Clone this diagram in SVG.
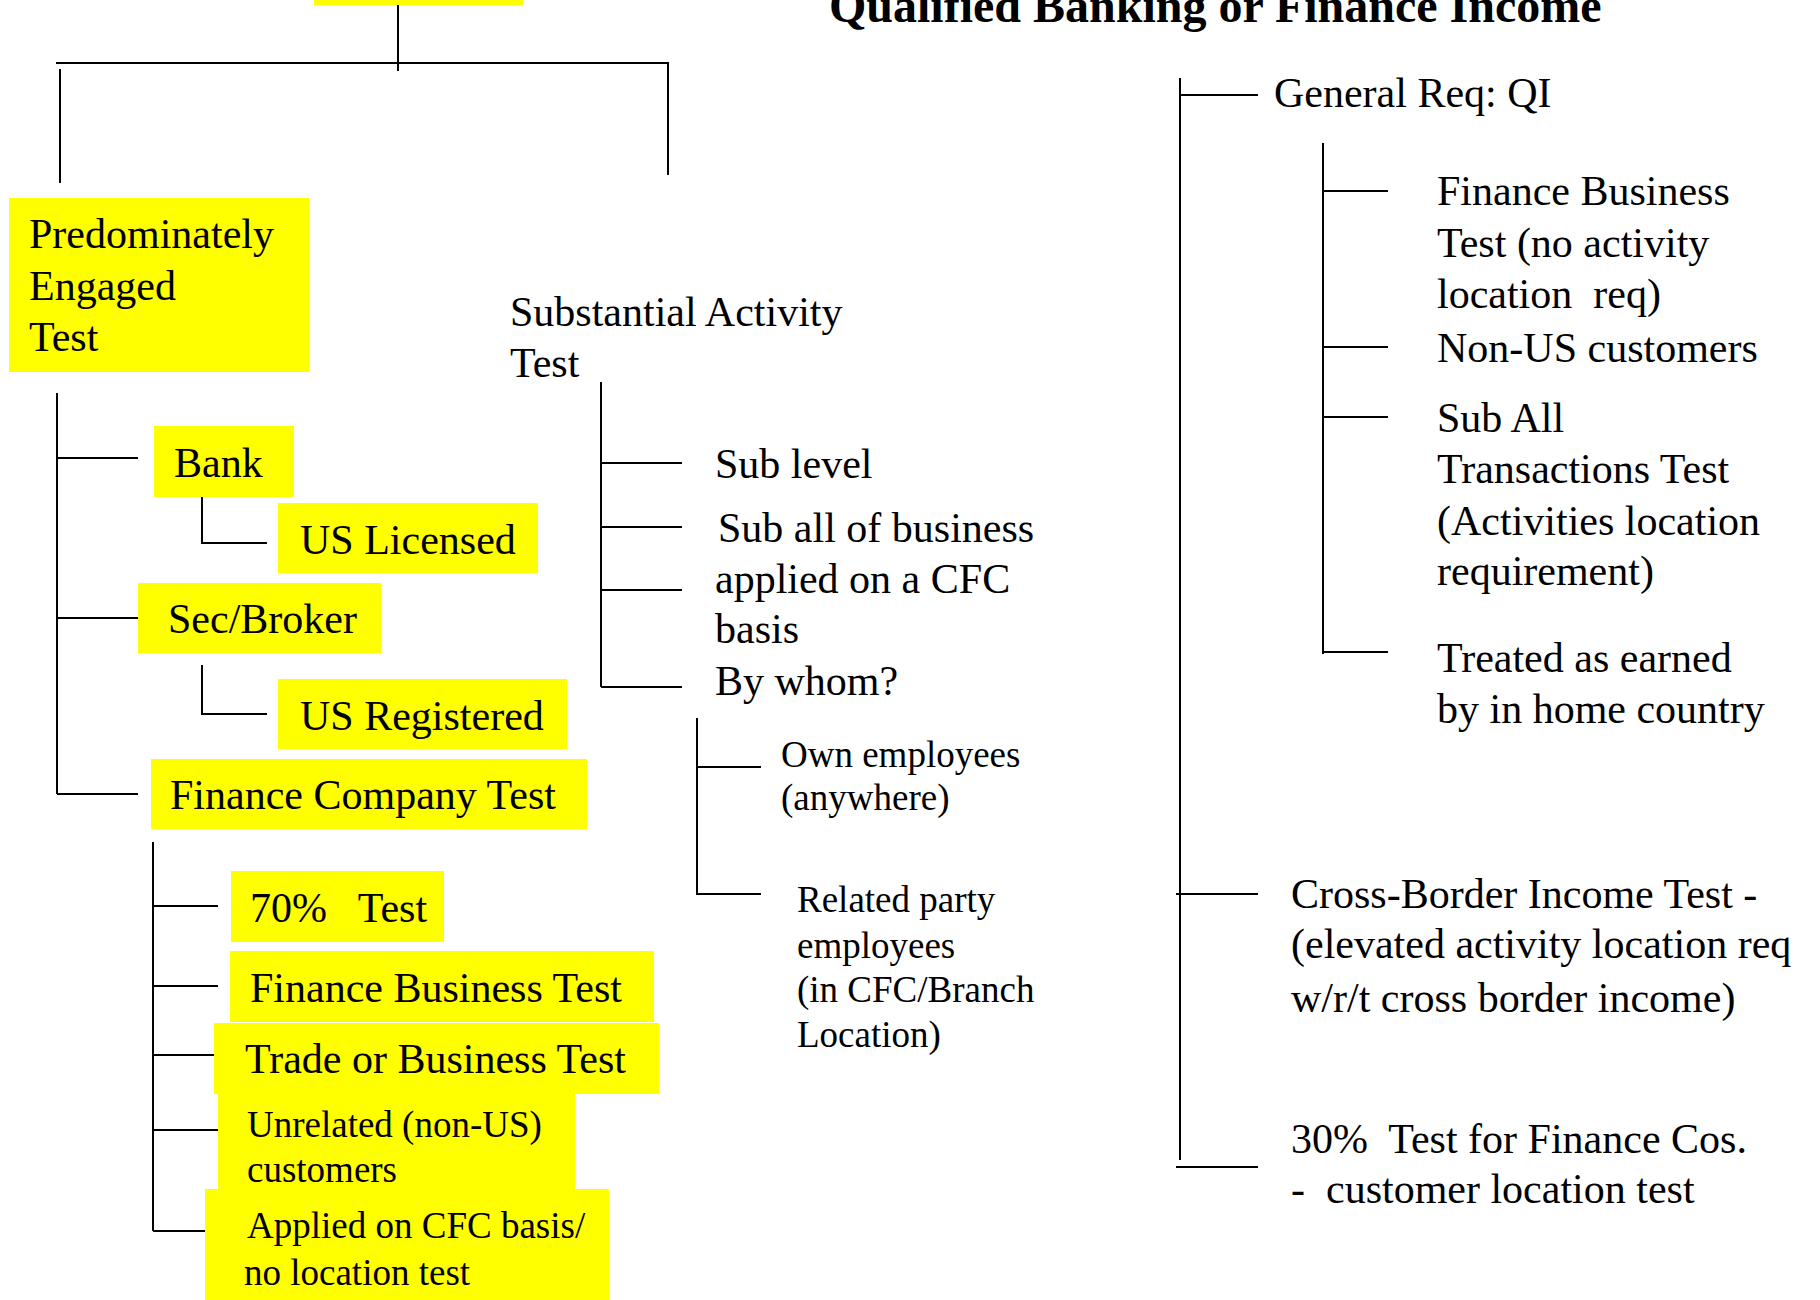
<svg xmlns="http://www.w3.org/2000/svg" width="1820" height="1300" viewBox="0 0 1820 1300">
  <style>
    .box { fill: #FFFF00; }
    .t { font-family: "Liberation Serif", "Times New Roman", serif; font-size: 42px; fill: #000; }
    .s { font-family: "Liberation Serif", "Times New Roman", serif; font-size: 37px; fill: #000; }
    .title { font-family: "Liberation Serif", "Times New Roman", serif; font-size: 48px; font-weight: bold; fill: #000; }
    .ln { stroke: #000; stroke-width: 2; fill: none; }
  </style>
  <rect width="1820" height="1300" fill="#fff"/>

  <!-- tree connectors -->
  <g id="connectors" class="ln">
    <path d="M398 5 V71 M56 63 H668 V175 M60 69 V183"/>
    <path d="M57 393 V794 M57 458 H138 M57 618 H138 M57 794 H138"/>
    <path d="M202 494 V543 H267 M202 665 V714 H267"/>
    <path d="M153 842 V1231 M153 906 H218 M153 986 H218 M153 1055 H214 M153 1130 H218 M153 1231 H205"/>
    <path d="M601 382 V687 M601 463 H682 M601 527 H682 M601 590 H682 M601 687 H682"/>
    <path d="M697 718 V894 H761 M697 767 H761"/>
    <path d="M1180 78 V1160 M1180 95 H1258 M1176 894 H1258 M1176 1167 H1258"/>
    <path d="M1323 143 V654 M1323 191 H1388 M1323 347 H1388 M1323 417 H1388 M1323 652 H1388"/>
  </g>

  <g id="root">
    <rect class="box" x="314" y="-20" width="209" height="25"/>
  </g>

  <g id="title">
    <text class="title" x="829" y="22">Qualified Banking or Finance Income</text>
  </g>

  <g id="predominately-engaged">
    <rect class="box" x="9" y="198" width="300" height="174"/>
    <text class="t" x="29" y="248">Predominately</text>
    <text class="t" x="29" y="300">Engaged</text>
    <text class="t" x="29" y="351">Test</text>
  </g>

  <g id="bank">
    <rect class="box" x="154" y="426" width="140" height="71"/>
    <text class="t" x="174" y="477">Bank</text>
  </g>
  <g id="us-licensed">
    <rect class="box" x="278" y="503" width="260" height="70"/>
    <text class="t" x="300" y="554">US Licensed</text>
  </g>
  <g id="sec-broker">
    <rect class="box" x="138" y="583" width="243" height="70"/>
    <text class="t" x="168" y="633">Sec/Broker</text>
  </g>
  <g id="us-registered">
    <rect class="box" x="278" y="679" width="289" height="70"/>
    <text class="t" x="300" y="730">US Registered</text>
  </g>
  <g id="finance-company-test">
    <rect class="box" x="151" y="759" width="436" height="70"/>
    <text class="t" x="170" y="809">Finance Company Test</text>
  </g>

  <g id="seventy-pct-test">
    <rect class="box" x="231" y="871" width="213" height="71"/>
    <text class="t" x="250" y="922" xml:space="preserve">70%   Test</text>
  </g>
  <g id="finance-business-test">
    <rect class="box" x="230" y="951" width="424" height="71"/>
    <text class="t" x="250" y="1002">Finance Business Test</text>
  </g>
  <g id="trade-or-business-test">
    <rect class="box" x="214" y="1023" width="445" height="71"/>
    <text class="t" x="245" y="1073">Trade or Business Test</text>
  </g>
  <g id="unrelated-customers">
    <rect class="box" x="218" y="1094" width="357" height="95"/>
    <text class="s" x="247" y="1137">Unrelated (non-US)</text>
    <text class="s" x="247" y="1182">customers</text>
  </g>
  <g id="applied-cfc-basis">
    <rect class="box" x="205" y="1189" width="404" height="111"/>
    <text class="s" x="247" y="1238">Applied on CFC basis/</text>
    <text class="s" x="244" y="1285">no location test</text>
  </g>

  <g id="substantial-activity-test">
    <text class="t" x="510" y="326">Substantial Activity</text>
    <text class="t" x="510" y="377">Test</text>
  </g>
  <g id="sub-level">
    <text class="t" x="715" y="478">Sub level</text>
  </g>
  <g id="sub-all-of-business">
    <text class="t" x="718" y="542">Sub all of business</text>
    <text class="t" x="715" y="593">applied on a CFC</text>
    <text class="t" x="715" y="643">basis</text>
  </g>
  <g id="by-whom">
    <text class="t" x="715" y="695">By whom?</text>
  </g>
  <g id="own-employees">
    <text class="s" x="781" y="767">Own employees</text>
    <text class="s" x="781" y="810">(anywhere)</text>
  </g>
  <g id="related-party-employees">
    <text class="s" x="797" y="912">Related party</text>
    <text class="s" x="797" y="958">employees</text>
    <text class="s" x="797" y="1002">(in CFC/Branch</text>
    <text class="s" x="797" y="1047">Location)</text>
  </g>

  <g id="general-req">
    <text class="t" x="1274" y="107">General Req: QI</text>
  </g>
  <g id="finance-business-test-qi">
    <text class="t" x="1437" y="205">Finance Business</text>
    <text class="t" x="1437" y="257">Test (no activity</text>
    <text class="t" x="1437" y="308" xml:space="preserve">location  req)</text>
  </g>
  <g id="non-us-customers">
    <text class="t" x="1437" y="362">Non-US customers</text>
  </g>
  <g id="sub-all-transactions-test">
    <text class="t" x="1437" y="432">Sub All</text>
    <text class="t" x="1437" y="483">Transactions Test</text>
    <text class="t" x="1437" y="535">(Activities location</text>
    <text class="t" x="1437" y="585">requirement)</text>
  </g>
  <g id="treated-as-earned">
    <text class="t" x="1437" y="672">Treated as earned</text>
    <text class="t" x="1437" y="723">by in home country</text>
  </g>
  <g id="cross-border-income-test">
    <text class="t" x="1291" y="908">Cross-Border Income Test -</text>
    <text class="t" x="1291" y="958">(elevated activity location req</text>
    <text class="t" x="1291" y="1012">w/r/t cross border income)</text>
  </g>
  <g id="thirty-pct-test">
    <text class="t" x="1291" y="1153" xml:space="preserve">30%  Test for Finance Cos.</text>
    <text class="t" x="1291" y="1203" xml:space="preserve">-  customer location test</text>
  </g>
</svg>
